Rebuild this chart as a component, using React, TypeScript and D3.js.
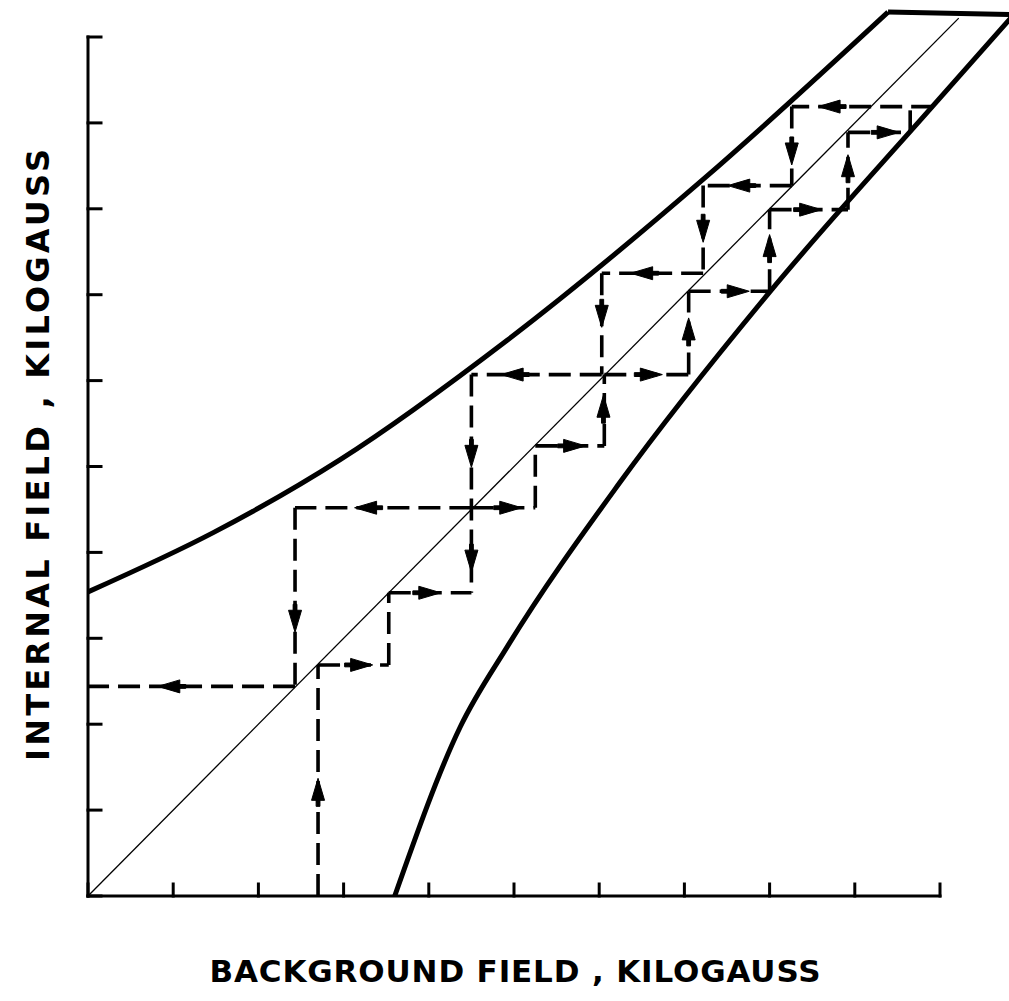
import React from "react";
import * as d3 from "d3";

// ---- data (kilogauss) ----
const xTicks = [0, 1, 2, 3, 4, 5, 6, 7, 8, 9, 10];
const yTicks = [0, 1, 2, 3, 4, 5, 6, 7, 8, 9, 10];

const upperBoundary: [number, number][] = [
  [0, 3.54], [1.47, 4.23], [2.96, 5.08], [4.92, 6.47], [7.24, 8.36], [9.39, 10.29],
];
const upperFlat: [number, number][] = [[9.39, 10.29], [10.9, 10.26]];

const lowerBoundary: [number, number][] = [
  [3.60, 0], [4.37, 1.97], [4.92, 2.90], [6.24, 4.81], [8.00, 7.03], [9.92, 9.20], [10.9, 10.3],
];

const diagonal: [number, number][] = [[0, 0], [10.22, 10.22]];

// increasing background field path
const risingPath1: [number, number][] = [
  [2.70, 0], [2.70, 2.69], [3.53, 2.69], [3.53, 3.53], [4.50, 3.53],
];
const risingPath2: [number, number][] = [
  [4.50, 4.52], [5.25, 4.52], [5.25, 5.24], [6.06, 5.24], [6.06, 6.07], [7.05, 6.07],
  [7.05, 7.04], [8.00, 7.04], [8.00, 7.99], [8.92, 7.99], [8.92, 8.89], [9.65, 8.89], [9.65, 9.19],
];
// decreasing background field path
const fallingPath1: [number, number][] = [
  [9.92, 9.19], [8.26, 9.19], [8.26, 8.27], [7.22, 8.27], [7.22, 7.25], [6.03, 7.25],
  [6.03, 6.07], [4.50, 6.07], [4.50, 3.53],
];
const fallingPath2: [number, number][] = [
  [4.50, 4.52], [2.43, 4.52], [2.43, 2.44], [0, 2.44],
];

// arrows: x, y, direction
const arrowX = [2.70, 3.20, 4.00, 4.95, 5.70, 6.05, 6.60, 7.05, 7.62, 8.00, 8.47, 8.92, 9.38,
  8.71, 8.26, 7.65, 7.22, 6.51, 6.03, 4.99, 4.50, 4.50, 3.27, 2.43, 0.96];
const arrowY = [1.23, 2.69, 3.53, 4.52, 5.24, 5.69, 6.07, 6.59, 7.04, 7.56, 7.99, 8.49, 8.89,
  9.19, 8.65, 8.27, 7.75, 7.25, 6.76, 6.07, 5.13, 3.91, 4.52, 3.21, 2.44];
const arrowDir = ["up", "right", "right", "right", "right", "up", "right", "up", "right", "up", "right", "up", "right",
  "left", "down", "left", "down", "left", "down", "left", "down", "down", "left", "down", "left"];

const xLabel = "BACKGROUND FIELD , KILOGAUSS";
const yLabel = "INTERNAL FIELD , KILOGAUSS";

export default function App() {
  const W = 1009, H = 1001;
  const x = d3.scaleLinear().domain([0, 10]).range([88, 940]);
  const y = d3.scaleLinear().domain([0, 10]).range([896, 37]);

  const curve = d3.line<[number, number]>().x(d => x(d[0])).y(d => y(d[1])).curve(d3.curveMonotoneX);
  const straight = d3.line<[number, number]>().x(d => x(d[0])).y(d => y(d[1]));

  const segs = (pts: [number, number][]) => pts.slice(1).map((p, i) => [pts[i], p] as [number, number][]);
  const dashed = [risingPath1, risingPath2, fallingPath1, fallingPath2].flatMap(segs);

  const rot: Record<string, number> = { right: 0, down: 90, left: 180, up: -90 };

  return (
    <svg width={W} height={H} style={{ position: "absolute", left: 0, top: 0, background: "#fff" }}>
      <rect width={W} height={H} fill="#fff" />
      {/* axes */}
      <g stroke="#000" strokeWidth={3} fill="none" strokeLinecap="square">
        <line x1={x(0)} y1={y(10)} x2={x(0)} y2={y(0)} />
        <line x1={x(0)} y1={y(0)} x2={x(10)} y2={y(0)} />
        {yTicks.map(t => (
          <line key={"yt" + t} x1={x(0)} x2={x(0) + 13} y1={y(t)} y2={y(t)} />
        ))}
        {xTicks.map(t => (
          <line key={"xt" + t} x1={x(t)} x2={x(t)} y1={y(0)} y2={y(0) - 12} />
        ))}
      </g>
      {/* diagonal */}
      <path d={straight(diagonal) || ""} stroke="#000" strokeWidth={1.3} fill="none" />
      {/* boundaries */}
      <g stroke="#000" strokeWidth={5} fill="none" strokeLinejoin="round">
        <path d={curve(upperBoundary) || ""} />
        <path d={straight(upperFlat) || ""} />
        <path d={curve(lowerBoundary) || ""} />
      </g>
      {/* staircase */}
      <g stroke="#000" strokeWidth={3.6} fill="none" strokeDasharray="22,9">
        {dashed.map((s, i) => (
          <path key={"s" + i} d={straight(s) || ""} />
        ))}
      </g>
      <g fill="#000" stroke="#000" strokeWidth={1} strokeLinejoin="round">
        {arrowX.map((ax, i) => (
          <g key={"a" + i} transform={`translate(${x(ax)},${y(arrowY[i])}) rotate(${rot[arrowDir[i]]})`}>
            <rect x={-16} y={-1.9} width={12} height={3.8} />
            <path d="M12,0 L-10,-6.5 L-10,6.5 Z" />
          </g>
        ))}
      </g>
      {/* labels */}
      <text x={515} y={982} textAnchor="middle" fontFamily="DejaVu Sans, sans-serif" fontWeight="bold"
        fontSize={31} textLength={611} lengthAdjust="spacing">{xLabel}</text>
      <text transform="translate(49,455) rotate(-90)" textAnchor="middle" fontFamily="DejaVu Sans, sans-serif"
        fontWeight="bold" fontSize={32} textLength={612} lengthAdjust="spacing">{yLabel}</text>
    </svg>
  );
}
